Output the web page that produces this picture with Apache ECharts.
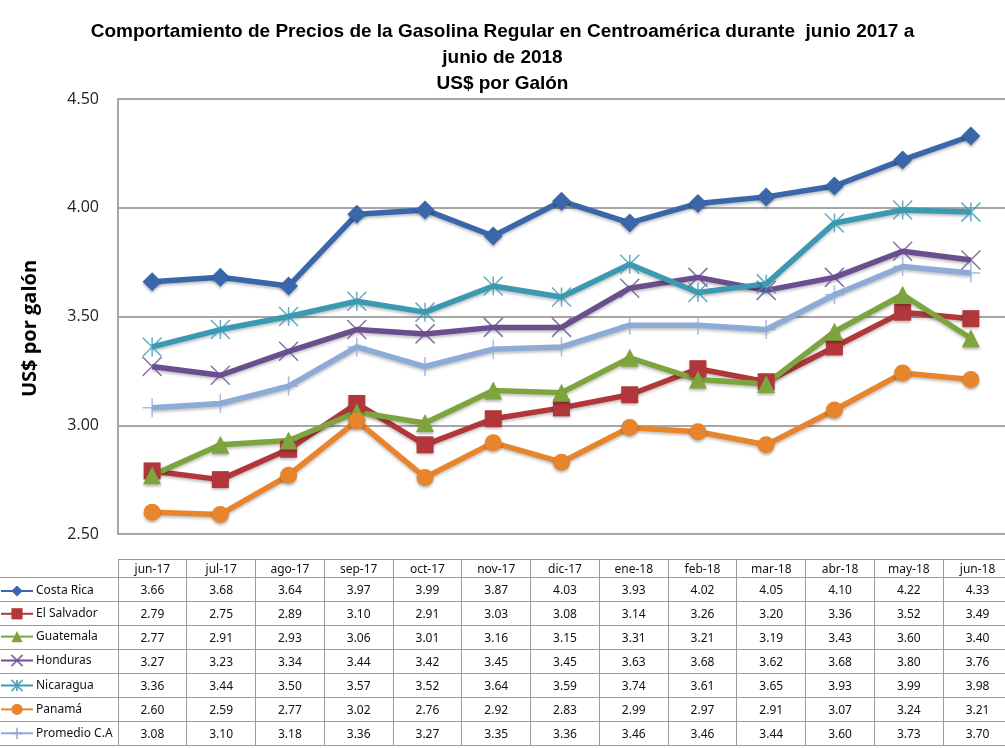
<!DOCTYPE html>
<html>
<head>
<meta charset="utf-8">
<script src="https://cdn.jsdelivr.net/npm/echarts@6/dist/echarts.min.js"></script>
<style>
  html, body { margin: 0; padding: 0; background: #fff; overflow: hidden; }
  #wrap { position: relative; width: 1005px; height: 748px; overflow: hidden; }
  #chart { position: absolute; left: 0; top: 0; width: 1005px; height: 790px; }
  #tabla { position: absolute; left: 0; top: 559px; border-collapse: collapse; table-layout: fixed;
    font-family: "Noto Sans", sans-serif; font-size: 12px; color: #111; background: transparent; }
  #tabla td { border: 1.5px solid #9a9a9a; text-align: center; padding: 0; box-sizing: border-box; }
  #tabla tr.head td { height: 18px; line-height: 16px; }
  #tabla tr.fila td { height: 24px; line-height: 22px; }
  #tabla td.lbl { border-left: none; }
  #tabla tr.head td.lbl { border-top: none; }
</style>
</head>
<body>
<div id="wrap">
  <div id="chart"></div>
  <table id="tabla"></table>
</div>
<script>
// meses (categorías)
const meses = ['jun-17', 'jul-17', 'ago-17', 'sep-17', 'oct-17', 'nov-17', 'dic-17', 'ene-18', 'feb-18', 'mar-18', 'abr-18', 'may-18', 'jun-18'];

// precios US$ por galón
const costaRica  = [3.66, 3.68, 3.64, 3.97, 3.99, 3.87, 4.03, 3.93, 4.02, 4.05, 4.10, 4.22, 4.33];
const elSalvador = [2.79, 2.75, 2.89, 3.10, 2.91, 3.03, 3.08, 3.14, 3.26, 3.20, 3.36, 3.52, 3.49];
const guatemala  = [2.77, 2.91, 2.93, 3.06, 3.01, 3.16, 3.15, 3.31, 3.21, 3.19, 3.43, 3.60, 3.40];
const honduras   = [3.27, 3.23, 3.34, 3.44, 3.42, 3.45, 3.45, 3.63, 3.68, 3.62, 3.68, 3.80, 3.76];
const nicaragua  = [3.36, 3.44, 3.50, 3.57, 3.52, 3.64, 3.59, 3.74, 3.61, 3.65, 3.93, 3.99, 3.98];
const panama     = [2.60, 2.59, 2.77, 3.02, 2.76, 2.92, 2.83, 2.99, 2.97, 2.91, 3.07, 3.24, 3.21];
const promedio   = [3.08, 3.10, 3.18, 3.36, 3.27, 3.35, 3.36, 3.46, 3.46, 3.44, 3.60, 3.73, 3.70];

// marcas del eje Y
const yTicks = [2.5, 3.0, 3.5, 4.0, 4.5];

const GRID_LEFT = 118;
const GRID_WIDTH = 894;

const paises = [
  { name: 'Costa Rica', data: costaRica, color: '#3a67aa', symbol: 'diamond', size: 19 },
  { name: 'El Salvador', data: elSalvador, color: '#b2373a', symbol: 'rect', size: 17 },
  { name: 'Guatemala', data: guatemala, color: '#7ea53d', symbol: 'triangle', size: 18 },
  { name: 'Honduras', data: honduras, color: '#6a4e8e', symbol: 'path://M0,0L20,20M20,0L0,20', size: 19, hueco: true },
  { name: 'Nicaragua', data: nicaragua, color: '#3b9ab2', symbol: 'path://M10,0L10,20M0,0L20,20M20,0L0,20', size: 19, hueco: true },
  { name: 'Panamá', data: panama, color: '#e8842c', symbol: 'circle', size: 17 },
  { name: 'Promedio C.A', data: promedio, color: '#8eaad7', symbol: 'path://M10,0L10,20M0,10L20,10', size: 19, hueco: true }
];

const chart = echarts.init(document.getElementById('chart'), null, { renderer: 'canvas' });

const series = paises.map(p => ({
  name: p.name,
  type: 'line',
  data: p.data,
  symbol: p.symbol,
  symbolSize: p.size,
  color: p.color,
  lineStyle: { width: 5.5, color: p.color, shadowColor: 'rgba(0,0,0,0.25)', shadowBlur: 3, shadowOffsetY: 2 },
  itemStyle: p.hueco
    ? { color: 'none', borderColor: p.color, borderWidth: 1.5, opacity: 0.8 }
    : { color: p.color, shadowColor: 'rgba(0,0,0,0.3)', shadowBlur: 3, shadowOffsetY: 2 },
  emphasis: { disabled: true },
  z: 3
}));

// tabla de datos bajo el gráfico, alineada con las categorías
const colW = GRID_WIDTH / meses.length;
const tabla = document.getElementById('tabla');
let html = '<colgroup><col style="width:' + GRID_LEFT + 'px">';
meses.forEach(() => { html += '<col style="width:' + colW + 'px">'; });
html += '</colgroup><tr class="head"><td class="lbl"></td>';
meses.forEach(m => { html += '<td>' + m + '</td>'; });
html += '</tr>';
paises.forEach(p => {
  html += '<tr class="fila"><td class="lbl"></td>';
  p.data.forEach(v => { html += '<td>' + v.toFixed(2) + '</td>'; });
  html += '</tr>';
});
tabla.innerHTML = html;
tabla.style.width = (GRID_LEFT + GRID_WIDTH) + 'px';

// leyenda alineada con las filas de la tabla
const filas = tabla.querySelectorAll('tr.fila');
const r0 = filas[0].getBoundingClientRect();
const r1 = filas[1].getBoundingClientRect();
const altoFila = r1.top - r0.top;
const ICON_H = 14;

chart.setOption({
  animation: false,
  title: {
    text: 'Comportamiento de Precios de la Gasolina Regular en Centroamérica durante  junio 2017 a\njunio de 2018\nUS$ por Galón',
    left: 'center',
    top: 14,
    textStyle: {
      fontFamily: '"Liberation Sans", sans-serif',
      fontSize: 19,
      fontWeight: 'bold',
      color: '#000',
      lineHeight: 26
    }
  },
  legend: {
    orient: 'vertical',
    left: 0,
    top: Math.round(r0.top + r0.height / 2 - ICON_H / 2) + 1,
    padding: 0,
    itemWidth: 32,
    itemHeight: ICON_H,
    itemGap: altoFila - ICON_H - 1.2,
    textStyle: { fontFamily: '"Noto Sans", sans-serif', fontSize: 12, color: '#111', lineHeight: ICON_H, height: ICON_H, padding: [0, 0, 0, -2] },
    data: paises.map(p => p.name)
  },
  grid: { left: GRID_LEFT, top: 99, width: GRID_WIDTH, height: 435 },
  xAxis: {
    type: 'category',
    data: meses,
    boundaryGap: true,
    axisLabel: { show: false },
    axisTick: { show: false },
    axisLine: { lineStyle: { color: '#a6a6a6', width: 2 } }
  },
  yAxis: {
    type: 'value',
    min: yTicks[0],
    max: yTicks[yTicks.length - 1],
    interval: 0.5,
    name: 'US$ por galón',
    nameLocation: 'middle',
    nameGap: 78,
    nameTextStyle: { fontFamily: '"Open Sans", sans-serif', fontSize: 20, fontWeight: 'bold', color: '#000', padding: [0, 24, 0, 0] },
    axisLabel: {
      formatter: v => v.toFixed(2),
      fontFamily: '"Open Sans", sans-serif',
      fontSize: 16,
      color: '#222',
      margin: 19
    },
    axisTick: { show: false },
    axisLine: { show: true, lineStyle: { color: '#a6a6a6', width: 2 } },
    splitLine: { lineStyle: { color: '#a6a6a6', width: 2 } }
  },
  series: series
});
</script>
</body>
</html>
